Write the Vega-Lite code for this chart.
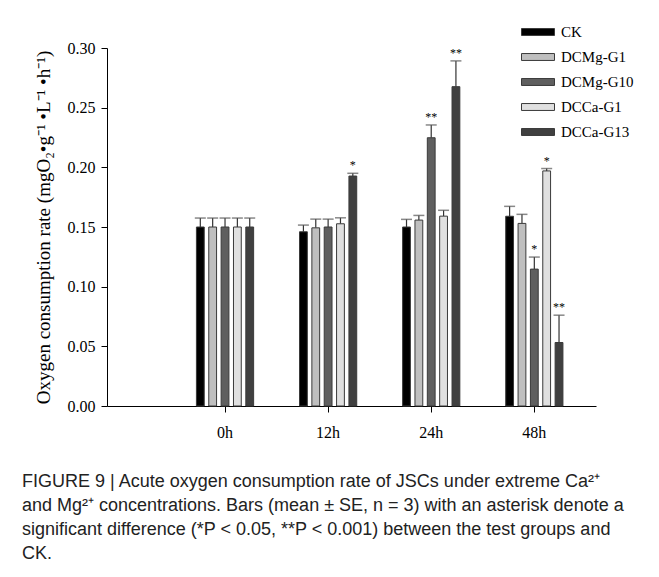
{
  "$schema": "https://vega.github.io/schema/vega-lite/v6.json",
  "autosize": {"type": "none"},
  "padding": {"left": 107, "top": 48, "right": 63, "bottom": 171},
  "width": 489,
  "height": 358,
  "background": "white",
  "title": {
    "text": [
      "FIGURE 9 | Acute oxygen consumption rate of JSCs under extreme Ca²⁺",
      "and Mg²⁺ concentrations. Bars (mean ± SE, n = 3) with an asterisk denote a",
      "significant difference (*P < 0.05, **P < 0.001) between the test groups and",
      "CK."
    ],
    "orient": "bottom",
    "anchor": "start",
    "frame": "group",
    "dx": -85,
    "offset": 33,
    "font": "Liberation Sans",
    "fontSize": 18,
    "fontWeight": "normal",
    "lineHeight": 24,
    "color": "#222222"
  },
  "data": {
    "values": [
      {"time": "0h", "group": "CK", "mean": 0.150, "upper": 0.1575, "sig": ""},
      {"time": "0h", "group": "DCMg-G1", "mean": 0.150, "upper": 0.1575, "sig": ""},
      {"time": "0h", "group": "DCMg-G10", "mean": 0.150, "upper": 0.1575, "sig": ""},
      {"time": "0h", "group": "DCCa-G1", "mean": 0.150, "upper": 0.1575, "sig": ""},
      {"time": "0h", "group": "DCCa-G13", "mean": 0.150, "upper": 0.1575, "sig": ""},
      {"time": "12h", "group": "CK", "mean": 0.146, "upper": 0.1516, "sig": ""},
      {"time": "12h", "group": "DCMg-G1", "mean": 0.1493, "upper": 0.1566, "sig": ""},
      {"time": "12h", "group": "DCMg-G10", "mean": 0.150, "upper": 0.1566, "sig": ""},
      {"time": "12h", "group": "DCCa-G1", "mean": 0.1527, "upper": 0.1577, "sig": ""},
      {"time": "12h", "group": "DCCa-G13", "mean": 0.1927, "upper": 0.195, "sig": "*"},
      {"time": "24h", "group": "CK", "mean": 0.150, "upper": 0.1564, "sig": ""},
      {"time": "24h", "group": "DCMg-G1", "mean": 0.1558, "upper": 0.1597, "sig": ""},
      {"time": "24h", "group": "DCMg-G10", "mean": 0.2248, "upper": 0.2355, "sig": "**"},
      {"time": "24h", "group": "DCCa-G1", "mean": 0.1591, "upper": 0.164, "sig": ""},
      {"time": "24h", "group": "DCCa-G13", "mean": 0.2676, "upper": 0.2892, "sig": "**"},
      {"time": "48h", "group": "CK", "mean": 0.159, "upper": 0.1673, "sig": ""},
      {"time": "48h", "group": "DCMg-G1", "mean": 0.153, "upper": 0.1606, "sig": ""},
      {"time": "48h", "group": "DCMg-G10", "mean": 0.1147, "upper": 0.1248, "sig": "*"},
      {"time": "48h", "group": "DCCa-G1", "mean": 0.197, "upper": 0.199, "sig": "*"},
      {"time": "48h", "group": "DCCa-G13", "mean": 0.0532, "upper": 0.0761, "sig": "**"}
    ]
  },
  "encoding": {
    "x": {
      "field": "time",
      "type": "nominal",
      "sort": ["0h", "12h", "24h", "48h"],
      "scale": {"paddingInner": 0.445, "paddingOuter": 0.594, "align": 0.73},
      "axis": {
        "title": null,
        "labelAngle": 0,
        "labelFont": "Liberation Serif",
        "labelFontSize": 16,
        "labelColor": "black",
        "labelPadding": 12,
        "tickSize": 6,
        "tickColor": "black",
        "domainColor": "black",
        "grid": false
      }
    },
    "xOffset": {
      "field": "group",
      "type": "nominal",
      "sort": ["CK", "DCMg-G1", "DCMg-G10", "DCCa-G1", "DCCa-G13"],
      "scale": {"paddingInner": 0.368, "paddingOuter": 0}
    }
  },
  "layer": [
    {
      "mark": {"type": "rule", "color": "#333333", "strokeWidth": 1.2},
      "encoding": {
        "y": {"field": "mean", "type": "quantitative"},
        "y2": {"field": "upper"}
      }
    },
    {
      "mark": {"type": "tick", "color": "#555555", "thickness": 1.5, "size": 11, "orient": "horizontal"},
      "encoding": {
        "y": {"field": "upper", "type": "quantitative"}
      }
    },
    {
      "mark": {"type": "bar", "stroke": "#3a3a3a", "strokeWidth": 1},
      "encoding": {
        "y": {
          "field": "mean",
          "type": "quantitative",
          "scale": {"domain": [0, 0.3], "nice": false},
          "axis": {
            "title": "Oxygen consumption rate (mgO₂•g⁻¹ •L⁻¹ •h⁻¹)",
            "titleFont": "Liberation Serif",
            "titleFontSize": 19,
            "titleFontWeight": "normal",
            "titleColor": "black",
            "titlePadding": 14,
            "values": [0, 0.05, 0.1, 0.15, 0.2, 0.25, 0.3],
            "format": ".2f",
            "labelFont": "Liberation Serif",
            "labelFontSize": 16,
            "labelColor": "black",
            "labelPadding": 6,
            "tickSize": 6,
            "tickColor": "black",
            "domainColor": "black",
            "grid": false
          }
        },
        "fill": {
          "field": "group",
          "type": "nominal",
          "sort": ["CK", "DCMg-G1", "DCMg-G10", "DCCa-G1", "DCCa-G13"],
          "scale": {
            "domain": ["CK", "DCMg-G1", "DCMg-G10", "DCCa-G1", "DCCa-G13"],
            "range": ["#000000", "#bfbfbf", "#5f5f5f", "#e0e0e0", "#404040"]
          },
          "legend": {
            "title": null,
            "orient": "none",
            "legendX": 414,
            "legendY": -33,
            "symbolType": "M-1,-0.21H1V0.21H-1Z",
            "symbolSize": 1089,
            "symbolStrokeColor": "#3a3a3a",
            "symbolStrokeWidth": 1,
            "labelFont": "Liberation Serif",
            "labelFontSize": 15,
            "labelColor": "black",
            "labelOffset": 6,
            "rowPadding": -6,
            "padding": 0
          }
        }
      }
    },
    {
      "mark": {"type": "text", "baseline": "bottom", "dy": -1, "fontSize": 12, "font": "Liberation Serif", "color": "black"},
      "encoding": {
        "y": {"field": "upper", "type": "quantitative"},
        "text": {"field": "sig"}
      }
    }
  ],
  "config": {
    "view": {"stroke": null}
  }
}
